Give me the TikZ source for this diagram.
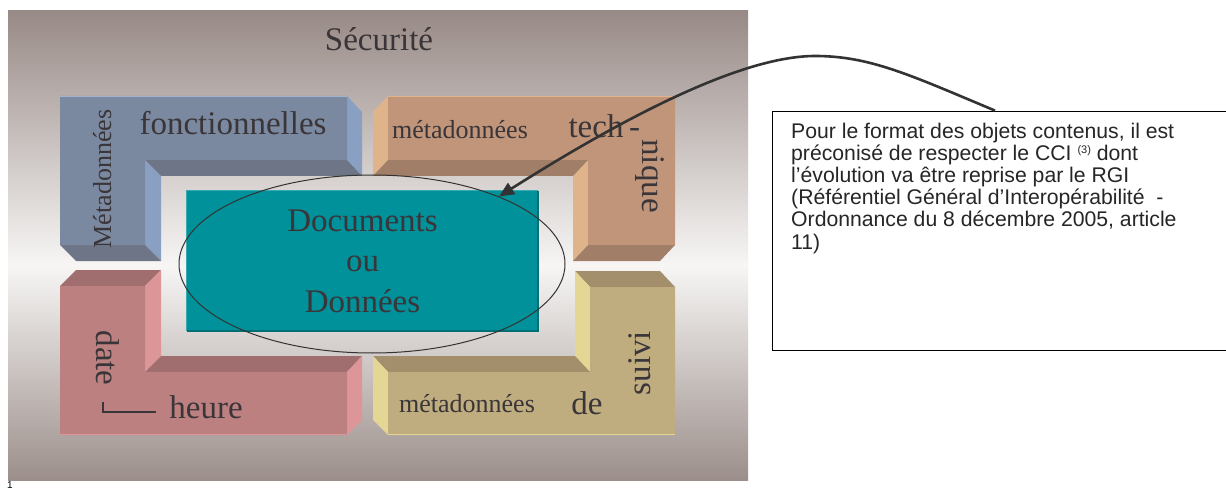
\documentclass[tikz,border=0pt]{standalone}
\usepackage{fontspec}
\setmainfont{Liberation Serif}
\newfontfamily\calloutfont{Liberation Sans}
\usetikzlibrary{arrows.meta,shapes.geometric}
\definecolor{txt}{HTML}{3A3538}
\definecolor{bgtop}{HTML}{988A86}
\definecolor{bgmid}{HTML}{F7F6F5}
\definecolor{bgbot}{HTML}{9C8F8B}
\definecolor{blueF}{HTML}{7B89A0}
\definecolor{blueL}{HTML}{8AA0C2}
\definecolor{blueD}{HTML}{6E7586}
\definecolor{oranF}{HTML}{C0957A}
\definecolor{oranL}{HTML}{E0B48A}
\definecolor{oranD}{HTML}{A07E68}
\definecolor{pinkF}{HTML}{BD8080}
\definecolor{pinkL}{HTML}{DC9698}
\definecolor{pinkD}{HTML}{A06E6E}
\definecolor{tanF}{HTML}{BFAD80}
\definecolor{tanL}{HTML}{E4D694}
\definecolor{tanD}{HTML}{A38F6C}
\definecolor{tealF}{HTML}{00919A}
\definecolor{tealD}{HTML}{006E72}
\definecolor{tealL}{HTML}{3AAAB2}
\definecolor{arrowc}{HTML}{333333}
\begin{document}
\begin{tikzpicture}[x=1pt,y=-1pt,
  lbl/.style={inner sep=0pt, text=txt, font=\fontsize{33}{33}\selectfont, anchor=base},
  smalllbl/.style={lbl, font=\fontsize{26}{26}\selectfont},
  conn/.style={draw=arrowc, line width=2.6pt, -{Triangle[length=15pt,width=13pt]}},
  frame/.style={draw=black, line width=0.8pt}]
\useasboundingbox (0,0) rectangle (1226,489);
\fill[white] (0,0) rectangle (1226,489);
% background gradient
\shade[top color=bgtop, bottom color=bgmid] (8,11) rectangle (748,266);
\shade[top color=bgmid, bottom color=bgbot] (8,265) rectangle (748,480);
\node[lbl] (secu) at (379,51) {Sécurité};
% blue L (top-left)
\fill[blueL] (347,96) -- (362,112) -- (362,176) -- (347,160) -- cycle;
\fill[blueL] (145,160) -- (161,176) -- (161,261) -- (145,245) -- cycle;
\fill[blueD] (145,160) -- (347,160) -- (362,176) -- (161,176) -- cycle;
\fill[blueD] (60,245) -- (145,245) -- (161,261) -- (76,261) -- cycle;
\fill[blueF] (60,96) -- (347,96) -- (347,160) -- (145,160) -- (145,245) -- (60,245) -- cycle;
\draw[blueL!80!white, line width=1pt] (60,96.5) -- (347,96.5);
% orange L (top-right)
\fill[oranL] (388,96) -- (373,112) -- (373,176) -- (388,160) -- cycle;
\fill[oranL] (588,160) -- (573,176) -- (573,261) -- (588,245) -- cycle;
\fill[oranD] (388,160) -- (588,160) -- (573,176) -- (373,176) -- cycle;
\fill[oranD] (588,245) -- (675,245) -- (660,261) -- (573,261) -- cycle;
\fill[oranF] (388,96) -- (675,96) -- (675,245) -- (588,245) -- (588,160) -- (388,160) -- cycle;
\draw[oranL, line width=1pt] (388,96.5) -- (675,96.5);
% pink L (bottom-left)
\fill[pinkD] (60,286) -- (76,270) -- (161,270) -- (145,286) -- cycle;
\fill[pinkL] (145,286) -- (161,270) -- (161,356) -- (145,372) -- cycle;
\fill[pinkD] (145,372) -- (161,356) -- (362,356) -- (347,372) -- cycle;
\fill[pinkL] (347,372) -- (362,356) -- (362,420) -- (347,435) -- cycle;
\fill[pinkF] (60,286) -- (145,286) -- (145,372) -- (347,372) -- (347,435) -- (60,435) -- cycle;
\draw[pinkL, line width=1pt] (60,434.5) -- (347,434.5);
% tan L (bottom-right)
\fill[tanD] (590,287) -- (575,271) -- (660,271) -- (675,287) -- cycle;
\fill[tanL] (590,287) -- (575,271) -- (575,356) -- (590,372) -- cycle;
\fill[tanD] (388,372) -- (373,356) -- (575,356) -- (590,372) -- cycle;
\fill[tanL] (388,372) -- (373,356) -- (373,420) -- (388,435) -- cycle;
\fill[tanF] (590,287) -- (675,287) -- (675,435) -- (388,435) -- (388,372) -- (590,372) -- cycle;
\draw[tanL, line width=1pt] (388,434.5) -- (675,434.5);
% block labels
\node[smalllbl, rotate=90] (meta1) at (111,179) {Métadonnées};
\node[lbl] (fonc) at (233,135) {fonctionnelles};
\node[smalllbl] (meta2) at (460,139) {métadonnées};
\node[lbl] (tech) at (596,138) {tech};
\node[lbl] (dash) at (634.5,138) {-};
\node[lbl, rotate=-90] (nique) at (642,176) {nique};
\node[lbl, rotate=-90] (date) at (96,358) {date};
\draw[txt, line width=1.3pt] (103,402) -- (103,412) -- (156,412);
\node[lbl] (heure) at (206,418) {heure};
\node[smalllbl] (meta3) at (467,412) {métadonnées};
\node[lbl] (de) at (587,414) {de};
\node[lbl, rotate=90] (suivi) at (650,363) {suivi};
% central documents box
\node[fill=tealF, minimum width=351pt, minimum height=140pt, inner sep=0pt,
      text=txt, align=center, font=\fontsize{33}{40.5}\selectfont] (doc) at (362.5,261)
      {Documents\\ou\\Données};
\draw[tealL, line width=1pt] (doc.south west) -- (doc.north west) -- (doc.north east);
\draw[tealD, line width=1.5pt] (doc.north east) -- (doc.south east) -- (doc.south west);
\node[draw=arrowc, line width=1pt, ellipse, minimum width=386pt, minimum height=178pt, inner sep=0pt] (ell) at (372,264) {};
% callout
\node[frame, rectangle, minimum width=456pt, minimum height=239pt, inner sep=0pt] (note) at (1000,230.5) {};
\node[inner sep=0pt, anchor=north west, align=left, text=black!85,
      font=\calloutfont\fontsize{21.2}{22.2}\selectfont] (notetext) at (791,122.5)
  {Pour le format des objets contenus, il est\\
   préconisé de respecter le CCI {\fontsize{11}{11}\selectfont\raisebox{7pt}{(3)}} dont\\
   l’évolution va être reprise par le RGI\\
   (Référentiel Général d’Interopérabilité~~-\\
   Ordonnance du 8 décembre 2005, article\\
   11)};
\draw[conn] ([xshift=-5pt]note.north) .. controls (910,75) and (870,56) .. (815,56)
   .. controls (740,56) and (620,120) .. (ell.28);
\node[inner sep=0pt, anchor=base west, font=\calloutfont\fontsize{10}{10}\selectfont] (pg) at (7,488) {1};
\end{tikzpicture}
\end{document}
